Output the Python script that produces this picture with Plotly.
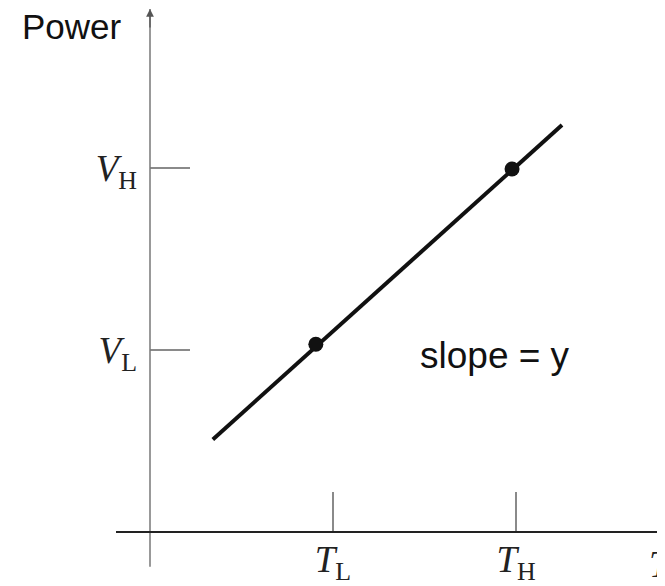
import plotly.graph_objects as go

# ---- data ----
line_x = [1.22, 8.00]          # ends of the straight line
line_y = [1.77, 7.78]
point_x = [3.22, 7.03]         # the two marked points
point_y = [3.59, 6.94]
x_tickvals = [3.55, 7.11]
x_ticktext = ["<i>T</i><sub>L</sub>", "<i>T</i><sub>H</sub>"]
y_tickvals = [3.48, 6.96]
y_ticktext = ["<i>V</i><sub>L</sub>", "<i>V</i><sub>H</sub>"]
y_title = "Power"
slope_text = "slope = y"
x_title = "<i>T</i>"
x_range = [0, 10]
y_range = [0, 10]

# the page body has an 8px margin, so the figure is offset by 8px
W, H = 657, 578
ML, MR, MT, MB = 142, 0, 1, 51
PW, PH = W - ML - MR, H - MT - MB

serif = "Liberation Serif, Times New Roman, serif"
sans = "Liberation Sans, Arial, Helvetica, sans-serif"

fig = go.Figure()
fig.add_trace(go.Scatter(x=line_x, y=line_y, mode="lines",
                         line=dict(color="#111111", width=4),
                         hoverinfo="skip", showlegend=False))
fig.add_trace(go.Scatter(x=point_x, y=point_y, mode="markers",
                         marker=dict(color="#111111", size=15),
                         hoverinfo="skip", showlegend=False))

fig.update_layout(
    width=W, height=H,
    margin=dict(l=ML, r=MR, t=MT, b=MB, pad=0),
    paper_bgcolor="white", plot_bgcolor="white",
    showlegend=False,
    xaxis=dict(range=x_range, showgrid=False, zeroline=False, showline=False,
               tickvals=x_tickvals, ticktext=x_ticktext,
               ticks="inside", ticklen=40, tickwidth=2, tickcolor="#8a8a8a",
               tickfont=dict(family=serif, size=37, color="#222222"),
               ticklabelstandoff=2, fixedrange=True),
    yaxis=dict(range=y_range, showgrid=False, zeroline=False, showline=False,
               tickvals=y_tickvals, ticktext=y_ticktext,
               ticks="inside", ticklen=40, tickwidth=2, tickcolor="#8a8a8a",
               tickfont=dict(family=serif, size=37, color="#222222"),
               ticklabelstandoff=12, fixedrange=True),
    shapes=[
        # y axis line (extends below the x axis)
        dict(type="line", xref="paper", yref="paper",
             x0=0, x1=0, y0=-35 / PH, y1=1,
             line=dict(color="#777777", width=1.5)),
        # x axis line (extends left of the y axis)
        dict(type="line", xref="paper", yref="paper",
             x0=-34 / PW, x1=1.0, y0=0, y1=0,
             line=dict(color="#222222", width=2)),
    ],
    annotations=[
        # arrow head at the top of the y axis
        dict(xref="paper", yref="paper", x=0, y=1, ax=0, ay=20,
             showarrow=True, arrowhead=2, arrowsize=1.2, arrowwidth=1.3,
             arrowcolor="#555555", text=""),
        dict(xref="paper", yref="paper", x=-130 / PW, y=1 + 4 / PH,
             xanchor="left", yanchor="top", showarrow=False,
             text=y_title, font=dict(family=sans, size=35, color="#111111")),
        dict(xref="x", yref="y", x=5.2, y=3.38, xanchor="left", yanchor="middle",
             showarrow=False, text=slope_text,
             font=dict(family=sans, size=37, color="#111111")),
        # x axis title, cut off at the right edge
        dict(xref="paper", yref="paper", x=497 / PW, y=-10 / PH,
             xanchor="left", yanchor="top", showarrow=False,
             text=x_title, font=dict(family=serif, size=37, color="#222222")),
    ],
)

fig.write_html("out.html")
